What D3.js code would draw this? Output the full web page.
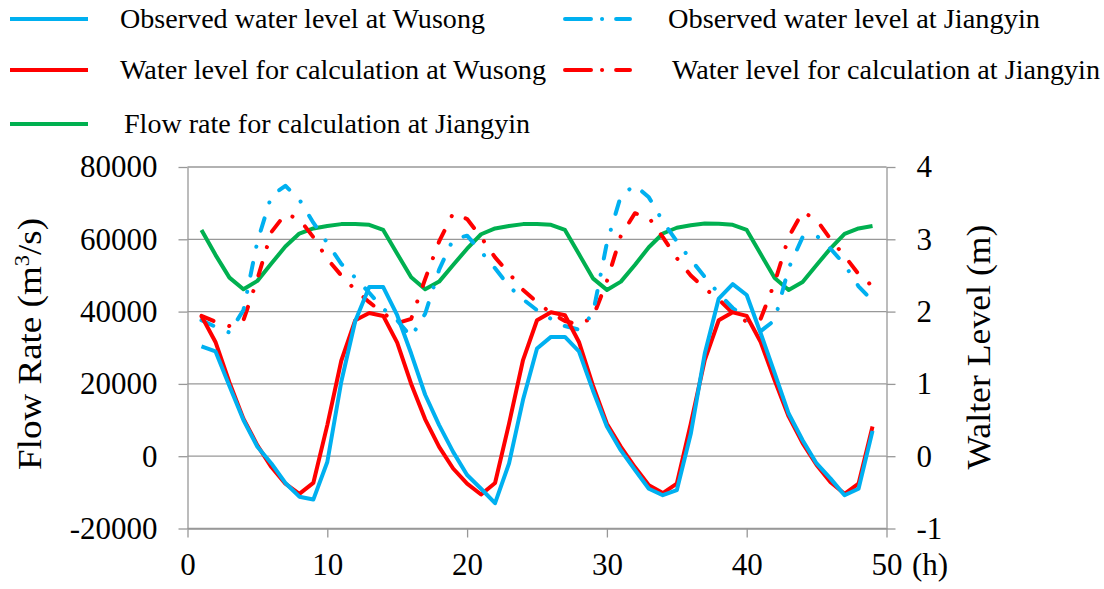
<!DOCTYPE html>
<html>
<head>
<meta charset="utf-8">
<script src="https://cdn.jsdelivr.net/npm/d3@7"></script>
<style>
  html, body { margin: 0; padding: 0; background: #fff; }
  svg { display: block; }
  svg text { font-family: "Liberation Serif", Tinos, "Times New Roman", "Nimbus Roman", "DejaVu Serif", serif; }
</style>
</head>
<body>
<svg id="chart" width="1104" height="589"></svg>
<script>
// hours (x categories)
const hours = [1, 2, 3, 4, 5, 6, 7, 8, 9, 10, 11, 12, 13, 14, 15, 16, 17, 18, 19, 20,
  21, 22, 23, 24, 25, 26, 27, 28, 29, 30, 31, 32, 33, 34, 35, 36, 37, 38, 39, 40,
  41, 42, 43, 44, 45, 46, 47, 48, 49];

// flow rate for calculation at Jiangyin (m3/s), left axis
const flowJiangyin = [62600, 55700, 49400, 46200, 48500, 53300, 58000, 61600, 63000, 63700,
  64200, 64200, 64000, 62600, 56000, 49500, 46200, 48300, 52900, 57400,
  61400, 63000, 63700, 64200, 64200, 64000, 62600, 55900, 49200, 46000,
  48300, 52900, 57800, 61600, 63200, 63900, 64400, 64300, 64000, 62600,
  55900, 49300, 46000, 48200, 52900, 57500, 61500, 63000, 63700];

// water levels (m), right axis
const obsWusong = [1.52, 1.45, 0.97, 0.50, 0.13, -0.10, -0.37, -0.56, -0.60, -0.08,
  1.03, 1.87, 2.34, 2.34, 1.95, 1.42, 0.85, 0.43, 0.06, -0.26,
  -0.45, -0.65, -0.10, 0.78, 1.49, 1.65, 1.65, 1.45, 0.91, 0.41,
  0.08, -0.19, -0.45, -0.54, -0.47, 0.31, 1.42, 2.18, 2.38, 2.23,
  1.70, 1.15, 0.59, 0.22, -0.10, -0.31, -0.54, -0.45, 0.35];

const calcWusong = [1.94, 1.58, 1.02, 0.52, 0.15, -0.15, -0.38, -0.52, -0.37, 0.43,
  1.32, 1.88, 1.98, 1.94, 1.57, 1.00, 0.51, 0.13, -0.17, -0.38,
  -0.53, -0.37, 0.45, 1.33, 1.88, 1.99, 1.95, 1.58, 0.98, 0.45,
  0.13, -0.15, -0.40, -0.51, -0.38, 0.45, 1.33, 1.88, 1.99, 1.94,
  1.58, 1.05, 0.55, 0.18, -0.12, -0.36, -0.52, -0.38, 0.41];

const obsJiangyin = [1.88, 1.79, 1.71, 2.02, 2.97, 3.60, 3.74, 3.55, 3.23, 2.95,
  2.66, 2.47, 2.26, 2.04, 1.88, 1.65, 1.97, 2.58, 3.00, 3.05,
  2.83, 2.60, 2.35, 2.17, 2.02, 1.90, 1.80, 1.75, 1.97, 2.95,
  3.60, 3.75, 3.58, 3.25, 2.97, 2.72, 2.48, 2.25, 2.05, 1.90,
  1.73, 1.88, 2.60, 3.03, 3.05, 2.87, 2.65, 2.35, 2.15];

const calcJiangyin = [1.94, 1.86, 1.80, 1.88, 2.45, 3.10, 3.35, 3.28, 3.03, 2.73,
  2.50, 2.30, 2.13, 1.98, 1.84, 1.90, 2.45, 2.97, 3.36, 3.28,
  3.03, 2.75, 2.53, 2.30, 2.13, 1.98, 1.87, 1.82, 1.92, 2.42,
  3.05, 3.36, 3.30, 3.03, 2.74, 2.50, 2.32, 2.17, 1.98, 1.86,
  1.90, 2.40, 3.03, 3.38, 3.27, 3.00, 2.77, 2.52, 2.35];

const flowTicks = [-20000, 0, 20000, 40000, 60000, 80000];
const levelTicks = [-1, 0, 1, 2, 3, 4];
const hourTicks = [0, 10, 20, 30, 40, 50];

const SERIF = '"Liberation Serif", Tinos, "Times New Roman", "Nimbus Roman", "DejaVu Serif", serif';
const BLUE = "#00b0f0";
const RED = "#ff0000";
const GREEN = "#00b050";
const GRID = "#989898";
const DASH_DOT = "13,16.5,0.1,16.5";

const svg = d3.select("#chart");

const x = d3.scaleLinear().domain([0, 50]).range([187.5, 886.5]);
const yFlow = d3.scaleLinear().domain([-20000, 80000]).range([528.5, 167]);
const yLevel = d3.scaleLinear().domain([-1, 4]).range([528.5, 167]);

// horizontal grid
svg.append("g")
  .selectAll("line")
  .data(flowTicks)
  .join("line")
  .attr("x1", x(0))
  .attr("x2", x(50))
  .attr("y1", (d) => yFlow(d))
  .attr("y2", (d) => yFlow(d))
  .attr("stroke", GRID)
  .attr("stroke-width", 1.3);

function styleAxis(g) {
  g.attr("font-family", SERIF).attr("font-size", 31);
  g.select(".domain").attr("stroke", GRID).attr("stroke-width", 1.3);
  g.selectAll(".tick line").attr("stroke", GRID).attr("stroke-width", 1.3);
  g.selectAll(".tick text").attr("fill", "#000");
}

const plain = (d) => String(d); // keep ascii hyphen for negatives

svg.append("g")
  .attr("transform", `translate(${x(0)},0)`)
  .call(d3.axisLeft(yFlow).tickValues(flowTicks).tickFormat(plain)
    .tickSizeInner(9).tickSizeOuter(0).tickPadding(21))
  .call(styleAxis);

svg.append("g")
  .attr("transform", `translate(${x(50)},0)`)
  .call(d3.axisRight(yLevel).tickValues(levelTicks).tickFormat(plain)
    .tickSizeInner(9).tickSizeOuter(0).tickPadding(21))
  .call(styleAxis);

svg.append("g")
  .attr("transform", `translate(0,${yFlow(-20000)})`)
  .call(d3.axisBottom(x).tickValues(hourTicks).tickFormat(plain)
    .tickSizeInner(9).tickSizeOuter(0).tickPadding(15))
  .call(styleAxis);

svg.append("text")
  .attr("x", 912)
  .attr("y", 575)
  .style("font-size", "31px")
  .text("(h)");

// axis titles
const leftTitle = svg.append("text")
  .attr("transform", "translate(41,344) rotate(-90)")
  .attr("text-anchor", "middle")
  .attr("textLength", 252)
  .attr("lengthAdjust", "spacingAndGlyphs")
  .style("font-size", "33px");
leftTitle.append("tspan").text("Flow Rate  (m");
leftTitle.append("tspan").attr("dy", -12).style("font-size", "20px").text("3");
leftTitle.append("tspan").attr("dy", 12).text("/s)");

svg.append("text")
  .attr("transform", "translate(990,347) rotate(-90)")
  .attr("text-anchor", "middle")
  .attr("textLength", 245)
  .attr("lengthAdjust", "spacingAndGlyphs")
  .style("font-size", "33px")
  .text("Walter Level  (m)");

// series
const series = [
  { name: "Flow rate for calculation at Jiangyin", values: flowJiangyin, y: yFlow, color: GREEN, dash: null },
  { name: "Water level for calculation at Jiangyin", values: calcJiangyin, y: yLevel, color: RED, dash: DASH_DOT },
  { name: "Observed water level at Jiangyin", values: obsJiangyin, y: yLevel, color: BLUE, dash: DASH_DOT },
  { name: "Water level for calculation at Wusong", values: calcWusong, y: yLevel, color: RED, dash: null },
  { name: "Observed water level at Wusong", values: obsWusong, y: yLevel, color: BLUE, dash: null },
];

const plot = svg.append("g");
series.forEach((s) => {
  const line = d3.line()
    .x((d, i) => x(hours[i]))
    .y((d) => s.y(d));
  plot.append("path")
    .datum(s.values)
    .attr("d", line)
    .attr("fill", "none")
    .attr("stroke", s.color)
    .attr("stroke-width", 4)
    .attr("stroke-linejoin", "round")
    .attr("stroke-linecap", s.dash ? "round" : "butt")
    .attr("stroke-dasharray", s.dash);
});

// legend
const legendItems = [
  { name: "Observed water level at Wusong", color: BLUE, dash: false, lx: 10, tx: 120, y: 19, w: 365 },
  { name: "Observed water level at Jiangyin", color: BLUE, dash: true, lx: 565, tx: 668, y: 19, w: 372 },
  { name: "Water level for calculation at Wusong", color: RED, dash: false, lx: 10, tx: 120, y: 70, w: 426 },
  { name: "Water level for calculation at Jiangyin", color: RED, dash: true, lx: 565, tx: 672, y: 70, w: 428 },
  { name: "Flow rate for calculation at Jiangyin", color: GREEN, dash: false, lx: 10, tx: 124, y: 124, w: 406 },
];

const legend = svg.append("g");
legendItems.forEach((item) => {
  legend.append("line")
    .attr("x1", item.lx)
    .attr("x2", item.dash ? 630 : 88)
    .attr("y1", item.y)
    .attr("y2", item.y)
    .attr("stroke", item.color)
    .attr("stroke-width", 4)
    .attr("stroke-linecap", item.dash ? "round" : "butt")
    .attr("stroke-dasharray", item.dash ? "26,11,0.1,14" : null);
  legend.append("text")
    .attr("x", item.tx)
    .attr("y", item.y + 9)
    .attr("textLength", item.w)
    .attr("lengthAdjust", "spacingAndGlyphs")
    .style("font-size", "27px")
    .text(item.name);
});
</script>
</body>
</html>
